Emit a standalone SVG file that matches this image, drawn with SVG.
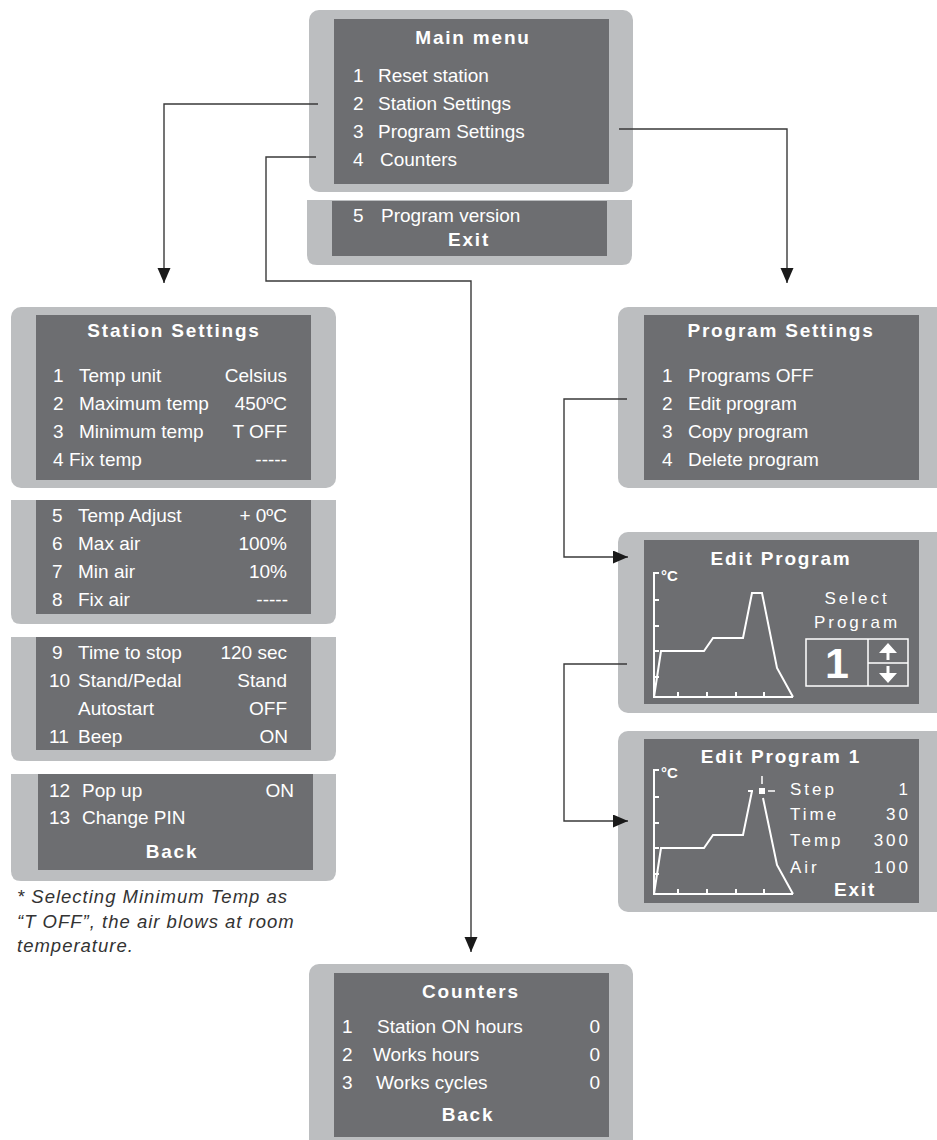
<svg xmlns="http://www.w3.org/2000/svg" xmlns:xlink="http://www.w3.org/1999/xlink" width="937" height="1140" viewBox="0 0 937 1140">
<style>
.outer{fill:#bcbec0}
.inner{fill:#6d6e71}
.t{font-family:"Liberation Sans",Arial,sans-serif;font-size:19px;fill:#ffffff}
.b{font-family:"Liberation Sans",Arial,sans-serif;font-size:19px;font-weight:bold;fill:#ffffff;letter-spacing:1.8px}
.m{font-family:"Liberation Sans",Arial,sans-serif;font-size:17px;fill:#ffffff;letter-spacing:3px}
.r{text-anchor:end}
.c{text-anchor:middle}
.w{fill:none;stroke:#ffffff;stroke-width:2}
.conn{fill:none;stroke:#3a3a3a;stroke-width:1.4}
.note{font-family:"Liberation Sans",Arial,sans-serif;font-size:18.5px;font-style:italic;fill:#333333;letter-spacing:1px}
</style>
<defs>
<marker id="ah" markerUnits="userSpaceOnUse" markerWidth="16" markerHeight="14" refX="15" refY="6.5" orient="auto">
<path d="M0,0 L15,6.5 L0,13 Z" fill="#1a1a1a"/>
</marker>
<g id="axes">
<path class="w" d="M659,573 H654 V697 H793"/>
<path class="w" d="M654,600 H659 M654,626 H659 M654,651 H659 M654,677 H659"/>
<path class="w" d="M678,697 V692 M707,697 V692 M736,697 V692 M764,697 V692"/>
<text x="661" y="581" style="font-family:'Liberation Sans',Arial,sans-serif;font-size:15px;font-weight:bold;fill:#fff">°C</text>
</g>
</defs>

<g id="main-menu">
<rect class="outer" x="309" y="10" width="324" height="182" rx="10"/>
<rect class="inner" x="334" y="19" width="275" height="165"/>
<text class="b c" x="473" y="44">Main menu</text>
<text class="t" x="353" y="82">1</text><text class="t" x="378" y="82">Reset station</text>
<text class="t" x="353" y="110">2</text><text class="t" x="378" y="110">Station Settings</text>
<text class="t" x="353" y="138">3</text><text class="t" x="378" y="138">Program Settings</text>
<text class="t" x="353" y="166">4</text><text class="t" x="380" y="166">Counters</text>
</g>

<g id="main-menu-2">
<path class="outer" d="M307,200 H632 V255 Q632,265 622,265 H317 Q307,265 307,255 Z"/>
<rect class="inner" x="332" y="201" width="275" height="55"/>
<text class="t" x="353" y="222">5</text><text class="t" x="381" y="222">Program version</text>
<text class="b c" x="469" y="246">Exit</text>
</g>

<g id="station-settings">
<rect class="outer" x="11" y="307" width="325" height="181" rx="10"/>
<rect class="inner" x="36" y="315" width="275" height="165"/>
<text class="b c" x="174" y="337">Station Settings</text>
<text class="t" x="53" y="382">1</text><text class="t" x="79" y="382">Temp unit</text><text class="t r" x="287" y="382">Celsius</text>
<text class="t" x="53" y="410">2</text><text class="t" x="79" y="410">Maximum temp</text><text class="t r" x="287" y="410">450ºC</text>
<text class="t" x="53" y="438">3</text><text class="t" x="79" y="438">Minimum temp</text><text class="t r" x="287" y="438">T OFF</text>
<text class="t" x="53" y="466">4</text><text class="t" x="69" y="466">Fix temp</text><text class="t r" x="287" y="466">-----</text>
</g>

<g id="station-settings-2">
<path class="outer" d="M11,500 H336 V614 Q336,624 326,624 H21 Q11,624 11,614 Z"/>
<rect class="inner" x="36" y="500" width="275" height="114"/>
<text class="t" x="52" y="522">5</text><text class="t" x="78" y="522">Temp Adjust</text><text class="t r" x="287" y="522">+ 0ºC</text>
<text class="t" x="52" y="550">6</text><text class="t" x="78" y="550">Max air</text><text class="t r" x="287" y="550">100%</text>
<text class="t" x="52" y="578">7</text><text class="t" x="78" y="578">Min air</text><text class="t r" x="287" y="578">10%</text>
<text class="t" x="52" y="606">8</text><text class="t" x="78" y="606">Fix air</text><text class="t r" x="288" y="606">-----</text>
</g>

<g id="station-settings-3">
<path class="outer" d="M11,637 H336 V751 Q336,761 326,761 H21 Q11,761 11,751 Z"/>
<rect class="inner" x="36" y="637" width="275" height="113"/>
<text class="t" x="52" y="659">9</text><text class="t" x="78" y="659">Time to stop</text><text class="t r" x="287" y="659">120 sec</text>
<text class="t" x="49" y="687">10</text><text class="t" x="78" y="687">Stand/Pedal</text><text class="t r" x="287" y="687">Stand</text>
<text class="t" x="78" y="715">Autostart</text><text class="t r" x="287" y="715">OFF</text>
<text class="t" x="49" y="743">11</text><text class="t" x="78" y="743">Beep</text><text class="t r" x="288" y="743">ON</text>
</g>

<g id="station-settings-4">
<path class="outer" d="M11,774 H336 V871 Q336,881 326,881 H21 Q11,881 11,871 Z"/>
<rect class="inner" x="38" y="774" width="275" height="96"/>
<text class="t" x="49" y="797">12</text><text class="t" x="82" y="797">Pop up</text><text class="t r" x="294" y="797">ON</text>
<text class="t" x="49" y="824">13</text><text class="t" x="82" y="824">Change PIN</text>
<text class="b c" x="172" y="858">Back</text>
</g>

<g id="footnote">
<text class="note" x="17" y="903">* Selecting Minimum Temp as</text>
<text class="note" x="17" y="928">“T OFF”, the air blows at room</text>
<text class="note" x="17" y="952">temperature.</text>
</g>

<g id="program-settings">
<rect class="outer" x="618" y="307" width="330" height="181" rx="10"/>
<rect class="inner" x="644" y="315" width="275" height="165"/>
<text class="b c" x="781" y="337">Program Settings</text>
<text class="t" x="662" y="382">1</text><text class="t" x="688" y="382">Programs OFF</text>
<text class="t" x="662" y="410">2</text><text class="t" x="688" y="410">Edit program</text>
<text class="t" x="662" y="438">3</text><text class="t" x="688" y="438">Copy program</text>
<text class="t" x="662" y="466">4</text><text class="t" x="688" y="466">Delete program</text>
</g>

<g id="edit-program">
<rect class="outer" x="618" y="532" width="330" height="181" rx="10"/>
<rect class="inner" x="644" y="540" width="275" height="164"/>
<text class="b c" x="781" y="565">Edit Program</text>
<use xlink:href="#axes"/>
<path class="w" d="M654,697 L661,651 L704,651 L713,638 L743,638 L752,593 L762,593 L777,668 L793,697"/>
<text class="m c" x="857" y="604">Select</text>
<text class="m c" x="857" y="628">Program</text>
<rect x="806" y="639" width="102" height="47" fill="none" stroke="#ffffff" stroke-width="1.5"/>
<path d="M868,639 V686 M868,663 H908" stroke="#ffffff" stroke-width="1.5" fill="none"/>
<text x="837" y="678" text-anchor="middle" style="font-family:'Liberation Sans',Arial,sans-serif;font-size:43px;font-weight:bold;fill:#fff">1</text>
<path d="M888,643 L897,653 L879,653 Z M886.5,653 H889.5 V660 H886.5 Z" fill="#ffffff"/>
<path d="M888,683 L897,673 L879,673 Z M886.5,666 H889.5 V673 H886.5 Z" fill="#ffffff"/>
</g>

<g id="edit-program-1">
<rect class="outer" x="618" y="731" width="330" height="181" rx="10"/>
<rect class="inner" x="644" y="739" width="275" height="164"/>
<text class="b c" x="781" y="763">Edit Program 1</text>
<use xlink:href="#axes" transform="translate(0,197)"/>
<path class="w" d="M654,894 L661,848 L704,848 L713,835 L743,835 L752,791 M748,791 H753"/>
<path class="w" d="M763,798 L777,865 L793,894"/>
<rect x="759" y="788" width="6" height="6" fill="#ffffff"/>
<path d="M762,776 V784 M768,791 H775" stroke="#ffffff" stroke-width="1.5"/>
<text class="m" x="790" y="795">Step</text><text class="m r" x="911" y="795">1</text>
<text class="m" x="790" y="820">Time</text><text class="m r" x="911" y="820">30</text>
<text class="m" x="790" y="846">Temp</text><text class="m r" x="911" y="846">300</text>
<text class="m" x="790" y="873">Air</text><text class="m r" x="911" y="873">100</text>
<text class="b c" x="855" y="896">Exit</text>
</g>

<g id="counters">
<rect class="outer" x="309" y="964" width="324" height="190" rx="10"/>
<rect class="inner" x="334" y="973" width="275" height="164"/>
<text class="b c" x="471" y="998">Counters</text>
<text class="t" x="342" y="1033">1</text><text class="t" x="377" y="1033">Station ON hours</text><text class="t r" x="600" y="1033">0</text>
<text class="t" x="342" y="1061">2</text><text class="t" x="373" y="1061">Works hours</text><text class="t r" x="600" y="1061">0</text>
<text class="t" x="342" y="1089">3</text><text class="t" x="376" y="1089">Works cycles</text><text class="t r" x="600" y="1089">0</text>
<text class="b c" x="468" y="1121">Back</text>
</g>

<g id="connectors">
<path class="conn" d="M318,104 H164 V283" marker-end="url(#ah)"/>
<path class="conn" d="M316,157 H266 V281 H471 V952" marker-end="url(#ah)"/>
<path class="conn" d="M619,129 H787 V283" marker-end="url(#ah)"/>
<path class="conn" d="M627,399 H564 V557 H628" marker-end="url(#ah)"/>
<path class="conn" d="M627,664 H564 V821 H628" marker-end="url(#ah)"/>
</g>
</svg>
